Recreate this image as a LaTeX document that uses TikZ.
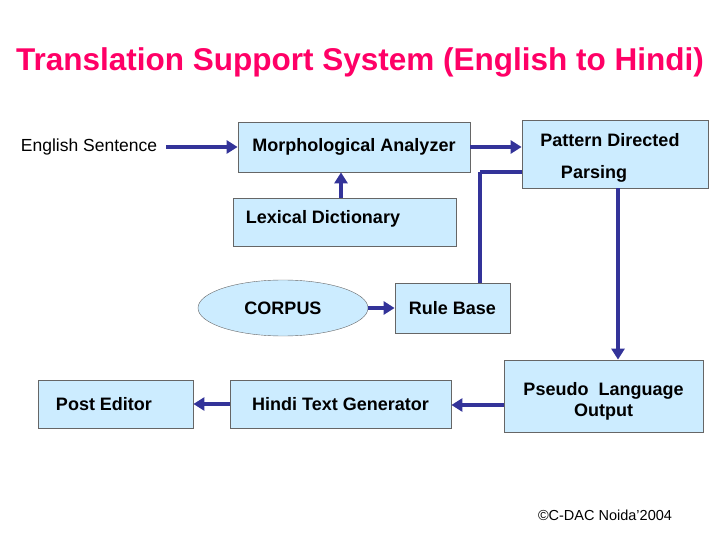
\documentclass[tikz,border=0pt]{standalone}
\usepackage{fontspec}
\setmainfont{Liberation Sans}
\usetikzlibrary{shapes.geometric,arrows.meta}
\definecolor{boxfill}{HTML}{CCECFF}
\definecolor{arr}{HTML}{333399}
\definecolor{titlec}{HTML}{FF0066}
\begin{document}
\begin{tikzpicture}[x=1pt,y=-1pt,
  lab/.style={font=\fontsize{18}{21}\selectfont\bfseries},
  box/.style={draw=gray!80!black,fill=boxfill,line width=0.8pt,inner sep=0pt,lab},
  conn/.style={draw=arr,line width=3.5pt,-{Triangle[length=11pt,width=13pt]}},
  line/.style={draw=arr,line width=3.5pt}]
\useasboundingbox (0,0) rectangle (720,540);
\node[font=\fontsize{31.5}{36}\selectfont\bfseries,text=titlec] (title) at (360,62) {Translation Support System (English to Hindi)};
\node[font=\fontsize{17.5}{21}\selectfont] (eng) at (89,147) {English Sentence};
\node[box,minimum width=232pt,minimum height=50pt] (morph) at (354,147) {Morphological Analyzer};
\node[box,minimum width=186pt,minimum height=68pt] (pdp) at (615,154) {};
\node[lab] (pdpa) at (610,140) {Pattern Directed};
\node[lab] (pdpb) at (594,174) {Parsing};
\node[box,minimum width=223pt,minimum height=48pt] (lex) at (344.5,222) {};
\node[lab] (lext) at (323,219) {Lexical Dictionary};
\node[draw=gray!80!black,fill=boxfill,ellipse,minimum width=170pt,minimum height=56pt,inner sep=0pt] (corpus) at (283,308) {};
\node[lab] (corpust) at (283,308) {CORPUS};
\node[box,minimum width=115pt,minimum height=50pt] (rule) at (452.5,308) {Rule Base};
\node[box,minimum width=199pt,minimum height=72pt] (pseudo) at (603.5,396) {};
\node[lab,align=center] (pseudot) at (603.5,401) {Pseudo\ \ Language\\Output};
\node[box,minimum width=221pt,minimum height=48pt] (hindi) at (340.5,404) {Hindi Text Generator};
\node[box,minimum width=155pt,minimum height=48pt] (post) at (115.5,404) {};
\node[lab] (postt) at (104,404) {Post Editor};
\node[font=\fontsize{14.5}{17}\selectfont] (copy) at (605,515) {\textcopyright C-DAC Noida'2004};
\coordinate (c1) at (480,172);
\coordinate (e1) at (166,147);
\draw[conn] (e1) -- (morph.west);
\draw[conn] (morph.east) -- (pdp.west |- morph.east);
\draw[conn] (lex.north -| 341,0) -- (morph.south -| 341,0);
\draw[conn] (corpus.east) -- (rule.west);
\draw[line] (rule.north -| c1) -- (c1);
\draw[line] (c1) -- (pdp.west |- c1);
\draw[conn] (pdp.south -| 618,0) -- (pseudo.north -| 618,0);
\draw[conn] (pseudo.west |- 0,405) -- (hindi.east |- 0,405);
\draw[conn] (hindi.west) -- (post.east);
\end{tikzpicture}
\end{document}
